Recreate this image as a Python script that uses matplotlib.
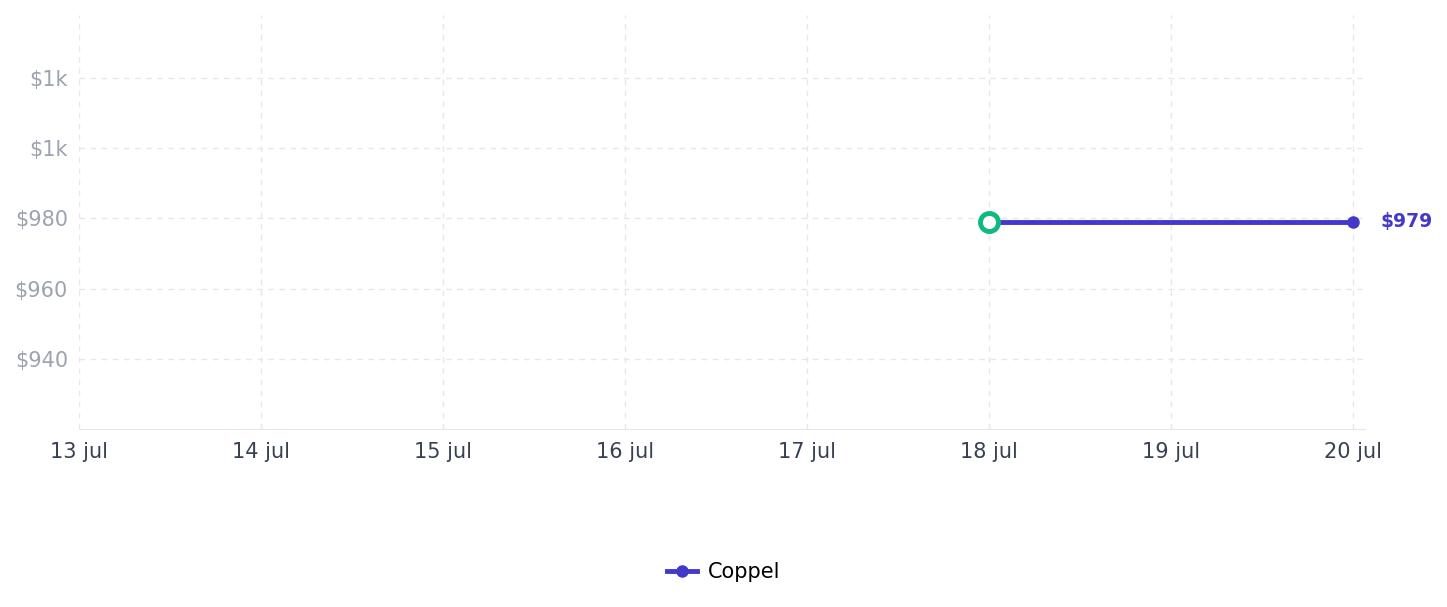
import matplotlib.pyplot as plt
import matplotlib.dates as mdates
from matplotlib.ticker import FuncFormatter
import datetime as dt

# Data
dates = ["2024-07-18", "2024-07-20"]
prices = [979, 979]
series_name = "Coppel"
x_start = "2024-07-13"
x_end = "2024-07-20"
y_ticks = [940, 960, 980, 1000, 1020]

line_color = "#4338CA"
start_color = "#10B981"
grid_color = "#E5E7EB"

plt.rcParams.update({'font.family': 'DejaVu Sans', 'font.size': 15})

x = [dt.datetime.strptime(d, "%Y-%m-%d") for d in dates]
x0 = dt.datetime.strptime(x_start, "%Y-%m-%d")
x1 = dt.datetime.strptime(x_end, "%Y-%m-%d")

fig = plt.figure(figsize=(14.47, 6.07), dpi=100)
ax = fig.add_axes([79 / 1447, 1 - 429 / 607, (1365 - 79) / 1447, (429 - 15) / 607])

ax.plot(x, prices, color=line_color, linewidth=3.5, marker='o', markersize=8,
        markevery=[1], label=series_name, zorder=3)
ax.plot(x[0], prices[0], marker='o', markersize=13, markerfacecolor='white',
        markeredgecolor=start_color, markeredgewidth=3.5, linestyle='none', zorder=4)
ax.annotate(f"${prices[-1]:.0f}", xy=(x[-1], prices[-1]), xytext=(20, 0),
            textcoords='offset points', color=line_color, fontweight='bold',
            fontsize=13.5, va='center', ha='left')

ax.set_xlim(x0, x1 + dt.timedelta(days=0.066))
ax.set_ylim(920, 1038)
ax.set_yticks(y_ticks)

def money(v, pos):
    if v >= 1000:
        return f"${v / 1000:.0f}k"
    return f"${v:.0f}"

ax.yaxis.set_major_formatter(FuncFormatter(money))
ax.xaxis.set_major_locator(mdates.DayLocator())
ax.xaxis.set_major_formatter(FuncFormatter(
    lambda v, pos: f"{mdates.num2date(v).day} jul"))

ax.grid(True, linestyle=(0, (4, 4)), color=grid_color, linewidth=1)
ax.set_axisbelow(True)
for side in ['top', 'right', 'left']:
    ax.spines[side].set_visible(False)
ax.spines['bottom'].set_color('#E5E7EB')
ax.tick_params(axis='both', length=0)
ax.tick_params(axis='y', colors='#9CA3AF', pad=8)
ax.tick_params(axis='x', colors='#374151', pad=9)

fig.legend(loc='center', bbox_to_anchor=(0.5, 1 - 572 / 607), frameon=False,
           fontsize=15, handlelength=1.45, handletextpad=0.5)

fig.savefig("out.png", dpi=100)
